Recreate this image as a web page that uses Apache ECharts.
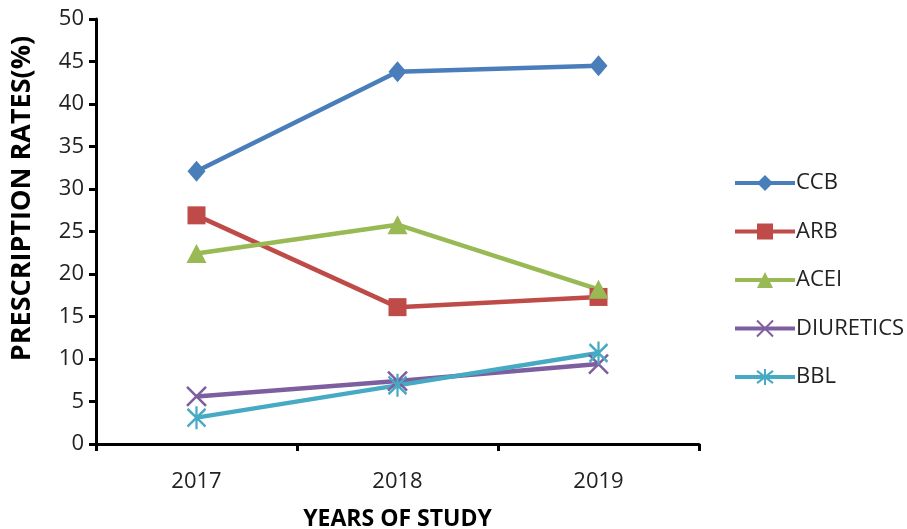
<!DOCTYPE html>
<html>
<head>
<meta charset="utf-8">
<script src="https://cdn.jsdelivr.net/npm/echarts@6/dist/echarts.min.js"></script>
<style>
html,body{margin:0;padding:0;background:#fff;}
#chart{width:907px;height:529px;}
</style>
</head>
<body>
<div id="chart"></div>
<script>
const categories = ['2017', '2018', '2019'];
const seriesNames = ['CCB', 'ARB', 'ACEI', 'DIURETICS', 'BBL'];
const ccb = [32.1, 43.8, 44.5];
const arb = [26.9, 16.1, 17.3];
const acei = [22.4, 25.8, 18.2];
const diuretics = [5.6, 7.4, 9.4];
const bbl = [3.1, 6.9, 10.7];
const yTicks = [0, 5, 10, 15, 20, 25, 30, 35, 40, 45, 50];

const colors = ['#4A7EBB', '#BE4B48', '#98B954', '#7D5FA0', '#46AAC5'];
const FONT = 'Open Sans';
const xPath = 'path://M0,0L10,10M10,0L0,10';
const starPath = 'path://M0,1.5L10,11.5M10,1.5L0,11.5M5,0L5,13';

const values = [ccb, arb, acei, diuretics, bbl];
const symbols = ['diamond', 'rect', 'triangle', xPath, starPath];
const sizes = [[18, 21], 18, [20, 19], 19, [18, 23]];

const chart = echarts.init(document.getElementById('chart'), null, {renderer: 'canvas'});
chart.setOption({
  animation: false,
  backgroundColor: '#fff',
  color: colors,
  grid: {left: 96, right: 208, top: 19, bottom: 85, containLabel: false, outerBoundsMode: 'none'},
  legend: {
    orient: 'vertical',
    left: 733,
    top: 172,
    padding: 0,
    itemWidth: 60,
    itemHeight: 20,
    itemGap: 26.5,
    lineStyle: {width: 4},
    textStyle: {fontFamily: FONT, fontSize: 22, color: '#222', padding: [0, 0, 0, -4]},
    data: seriesNames
  },
  xAxis: {
    type: 'category',
    data: categories,
    boundaryGap: true,
    name: 'YEARS OF STUDY',
    nameLocation: 'middle',
    nameGap: 64,
    nameTextStyle: {fontFamily: FONT, fontSize: 23, fontWeight: 'bold', color: '#000'},
    axisLine: {lineStyle: {color: '#000', width: 3}},
    axisTick: {show: true, length: 7, lineStyle: {color: '#000', width: 3}},
    axisLabel: {fontFamily: FONT, fontSize: 22, color: '#222', margin: 27}
  },
  yAxis: {
    type: 'value',
    min: 0,
    max: 50,
    interval: 5,
    name: 'PRESCRIPTION RATES(%)',
    nameLocation: 'middle',
    nameGap: 60,
    nameTextStyle: {fontFamily: FONT, fontSize: 27, fontWeight: 'bold', color: '#000', padding: [0, 0, 0, 66]},
    axisLine: {show: true, lineStyle: {color: '#000', width: 3}},
    axisTick: {show: true, length: 7, lineStyle: {color: '#000', width: 3}},
    splitLine: {show: false},
    axisLabel: {
      fontFamily: FONT, fontSize: 22, color: '#222', margin: 12,
      formatter: function (v) { return yTicks.indexOf(v) >= 0 ? String(v) : ''; }
    }
  },
  series: seriesNames.map(function (name, i) {
    const isStroke = i >= 3;
    return {
      name: name,
      type: 'line',
      data: values[i],
      symbol: symbols[i],
      symbolSize: sizes[i],
      showSymbol: true,
      lineStyle: {width: 4.5, color: colors[i]},
      itemStyle: isStroke
        ? {color: colors[i], borderColor: colors[i], borderWidth: 2.5}
        : {color: colors[i], borderWidth: 0},
      emphasis: {disabled: true}
    };
  })
});
</script>
</body>
</html>
